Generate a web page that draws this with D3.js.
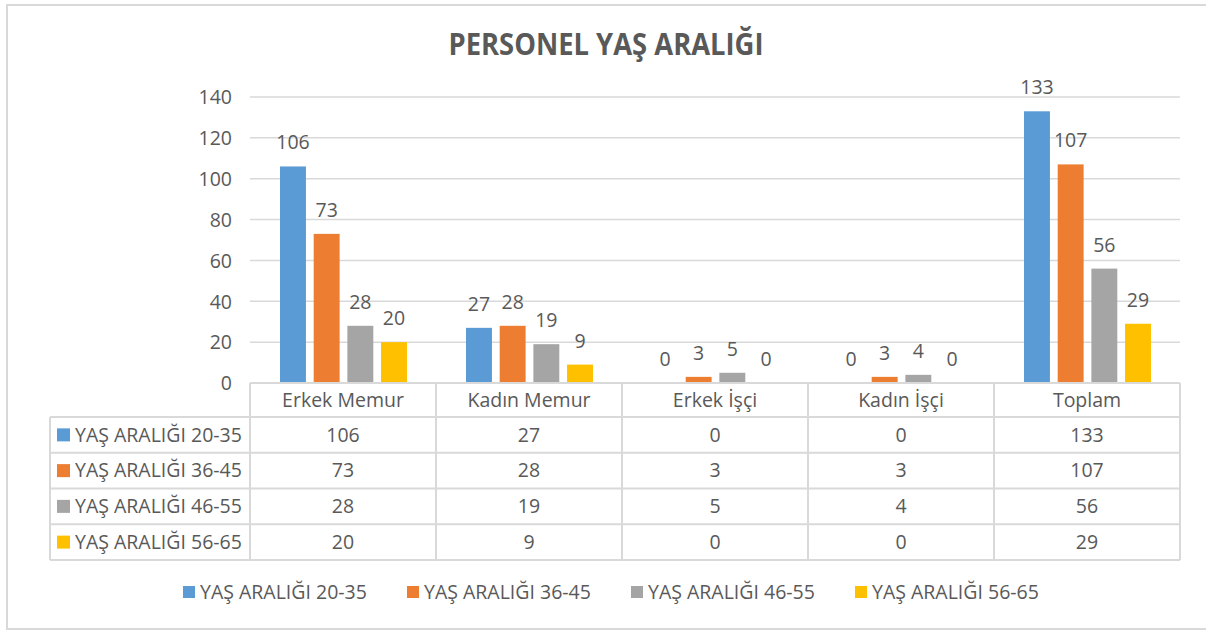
<!DOCTYPE html>
<html>
<head>
<meta charset="utf-8">
<script src="https://cdn.jsdelivr.net/npm/d3@7"></script>
<style>
  body { margin: 0; background: #fff; }
  svg text { font-family: "Open Sans", sans-serif; fill: #595959; }
</style>
</head>
<body>
<div class="grafik"></div>
<script>
// veriler
var categories = ["Erkek Memur", "Kadın Memur", "Erkek İşçi", "Kadın İşçi", "Toplam"];
var seriesNames = ["YAŞ ARALIĞI 20-35", "YAŞ ARALIĞI 36-45", "YAŞ ARALIĞI 46-55", "YAŞ ARALIĞI 56-65"];
var values20_35 = [106, 27, 0, 0, 133];
var values36_45 = [73, 28, 3, 3, 107];
var values46_55 = [28, 19, 5, 4, 56];
var values56_65 = [20, 9, 0, 0, 29];
var yTicks = [0, 20, 40, 60, 80, 100, 120, 140];
var colors = ["#5B9BD5", "#ED7D31", "#A5A5A5", "#FFC000"];

var allValues = [values20_35, values36_45, values46_55, values56_65];

var w = 1206;
var h = 630;
var pLeft = 250, pRight = 1180, pTop = 97, pBottom = 383;
var rowH = 35.75, headH = 34, tableLeft = 50;
var grid = "#d9d9d9";
var fs = "19.5px";

var svg = d3.select(".grafik")
    .append("svg")
    .attr("width", w)
    .attr("height", h);

// cerceve
svg.append("rect")
    .attr("x", 7).attr("y", 5)
    .attr("width", 1210).attr("height", 624)
    .attr("fill", "none")
    .attr("stroke", grid)
    .attr("stroke-width", 2);

// baslik
svg.append("text")
    .text("PERSONEL YAŞ ARALIĞI")
    .attr("x", 606).attr("y", 55)
    .attr("text-anchor", "middle")
    .attr("font-size", "30px")
    .attr("font-weight", "bold")
    .attr("textLength", 315)
    .attr("lengthAdjust", "spacingAndGlyphs");

var x0 = d3.scaleBand().domain(categories).range([pLeft, pRight]);
var x1 = d3.scaleBand().domain(seriesNames)
    .range([30, x0.bandwidth() - 29])
    .paddingInner(0.23);
var y = d3.scaleLinear().domain([0, 140]).range([pBottom, pTop]);

// izgara
svg.selectAll("line.grid").data(yTicks.slice(1)).enter().append("line")
    .attr("class", "grid")
    .attr("x1", pLeft).attr("x2", pRight)
    .attr("y1", function(d) { return y(d); })
    .attr("y2", function(d) { return y(d); })
    .attr("stroke", grid)
    .attr("stroke-width", 1.5);

// y ekseni
var yAxis = d3.axisLeft(y).tickValues(yTicks).tickSize(0).tickPadding(0);
var yg = svg.append("g").attr("transform", "translate(232,0)").call(yAxis);
yg.select(".domain").remove();
yg.selectAll("text")
    .attr("font-size", fs)
    .attr("font-family", "Open Sans, sans-serif")
    .attr("fill", "#595959")
    .attr("dy", "0.35em");

// cubuklar
seriesNames.forEach(function(s, si) {
    var g = svg.append("g");
    var vals = allValues[si];
    g.selectAll("rect").data(vals).enter().append("rect")
        .attr("x", function(d, i) { return x0(categories[i]) + x1(s); })
        .attr("y", function(d) { return y(d); })
        .attr("width", x1.bandwidth())
        .attr("height", function(d) { return pBottom - y(d); })
        .attr("fill", colors[si]);
    g.selectAll("text").data(vals).enter().append("text")
        .text(function(d) { return d; })
        .attr("text-anchor", "middle")
        .attr("x", function(d, i) { return x0(categories[i]) + x1(s) + x1.bandwidth() / 2; })
        .attr("y", function(d) { return y(d) - 17; })
        .attr("font-size", fs);
});

// veri tablosu
var tbl = svg.append("g").attr("stroke", grid).attr("stroke-width", 2);
var rowYs = [pBottom + headH];
for (var r = 1; r <= 4; r++) rowYs.push(pBottom + headH + r * rowH);
var tableBottom = rowYs[4];

tbl.append("line").attr("x1", pLeft).attr("x2", pRight).attr("y1", pBottom).attr("y2", pBottom);
rowYs.forEach(function(ry) {
    tbl.append("line").attr("x1", tableLeft).attr("x2", pRight).attr("y1", ry).attr("y2", ry);
});
tbl.append("line").attr("x1", tableLeft).attr("x2", tableLeft).attr("y1", rowYs[0]).attr("y2", tableBottom);
categories.concat(["_end"]).forEach(function(c, i) {
    var xx = i < categories.length ? x0(c) : pRight;
    tbl.append("line").attr("x1", xx).attr("x2", xx).attr("y1", pBottom).attr("y2", tableBottom);
});

// basliklar
svg.selectAll("text.cat").data(categories).enter().append("text")
    .attr("class", "cat")
    .text(function(d) { return d; })
    .attr("text-anchor", "middle")
    .attr("x", function(d) { return x0(d) + x0.bandwidth() / 2; })
    .attr("y", pBottom + headH / 2)
    .attr("dy", "0.35em")
    .attr("font-size", fs);

seriesNames.forEach(function(s, si) {
    var cy = rowYs[si] + rowH / 2;
    svg.append("rect")
        .attr("x", 57).attr("y", cy - 6.5)
        .attr("width", 13).attr("height", 13)
        .attr("fill", colors[si]);
    svg.append("text")
        .text(s)
        .attr("x", 75).attr("y", cy)
        .attr("dy", "0.35em")
        .attr("font-size", fs);
    svg.selectAll("text.v" + si).data(allValues[si]).enter().append("text")
        .attr("class", "v" + si)
        .text(function(d) { return d; })
        .attr("text-anchor", "middle")
        .attr("x", function(d, i) { return x0(categories[i]) + x0.bandwidth() / 2; })
        .attr("y", cy)
        .attr("dy", "0.35em")
        .attr("font-size", fs);
});

// alt lejant
var legendX = [183, 407, 631, 855];
seriesNames.forEach(function(s, si) {
    svg.append("rect")
        .attr("x", legendX[si]).attr("y", 586)
        .attr("width", 12).attr("height", 12)
        .attr("fill", colors[si]);
    svg.append("text")
        .text(s)
        .attr("x", legendX[si] + 17).attr("y", 592)
        .attr("dy", "0.35em")
        .attr("font-size", fs);
});
</script>
</body>
</html>
